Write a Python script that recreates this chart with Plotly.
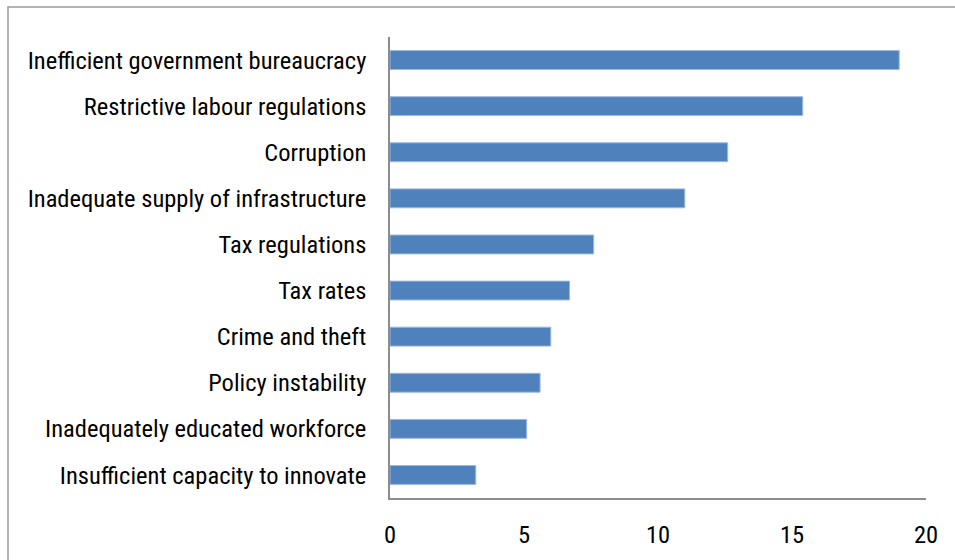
import plotly.graph_objects as go

# Most problematic factors for doing business (% of responses)
factors = [
    "Inefficient government bureaucracy",
    "Restrictive labour regulations",
    "Corruption",
    "Inadequate supply of infrastructure",
    "Tax regulations",
    "Tax rates",
    "Crime and theft",
    "Policy instability",
    "Inadequately educated workforce",
    "Insufficient capacity to innovate",
]
shares = [19.0, 15.4, 12.6, 11.0, 7.6, 6.7, 6.0, 5.6, 5.1, 3.2]
x_ticks = [0, 5, 10, 15, 20]

FONT = "Liberation Sans Narrow, Arial Narrow, Roboto Condensed, Liberation Sans, sans-serif"
AXIS_GREY = "#8c8c8c"

fig = go.Figure(
    go.Bar(
        x=shares,
        y=factors,
        orientation="h",
        marker=dict(color="#4F81BD", line=dict(color="#9DB9DD", width=1)),
        width=0.41,
    )
)

fig.update_layout(
    width=955,
    height=560,
    margin=dict(l=390, r=29, t=37, b=62),
    paper_bgcolor="white",
    plot_bgcolor="white",
    showlegend=False,
    font=dict(family=FONT, size=24.5, color="#000000"),
    shapes=[
        # outer chart-area frame
        dict(
            type="rect", xref="paper", yref="paper",
            x0=-390 / 536 + 8 / 536, x1=2.0,
            y0=-1.0, y1=1 + 30 / 461,
            line=dict(color="#9a9a9a", width=1.5),
            fillcolor="rgba(0,0,0,0)",
            layer="below",
        )
    ],
)

fig.update_xaxes(
    range=[0, 20],
    tickvals=x_ticks,
    ticktext=[str(v) for v in x_ticks],
    showgrid=False,
    zeroline=False,
    showline=True,
    linecolor=AXIS_GREY,
    linewidth=1.5,
    ticks="",
    ticklabelstandoff=14,
    tickfont=dict(family=FONT, size=24.5),
)

fig.update_yaxes(
    autorange="reversed",
    showgrid=False,
    zeroline=False,
    showline=True,
    linecolor=AXIS_GREY,
    linewidth=1.5,
    ticks="",
    ticklabelstandoff=17,
    tickfont=dict(family=FONT, size=24.5),
)

fig.write_html("out.html")
